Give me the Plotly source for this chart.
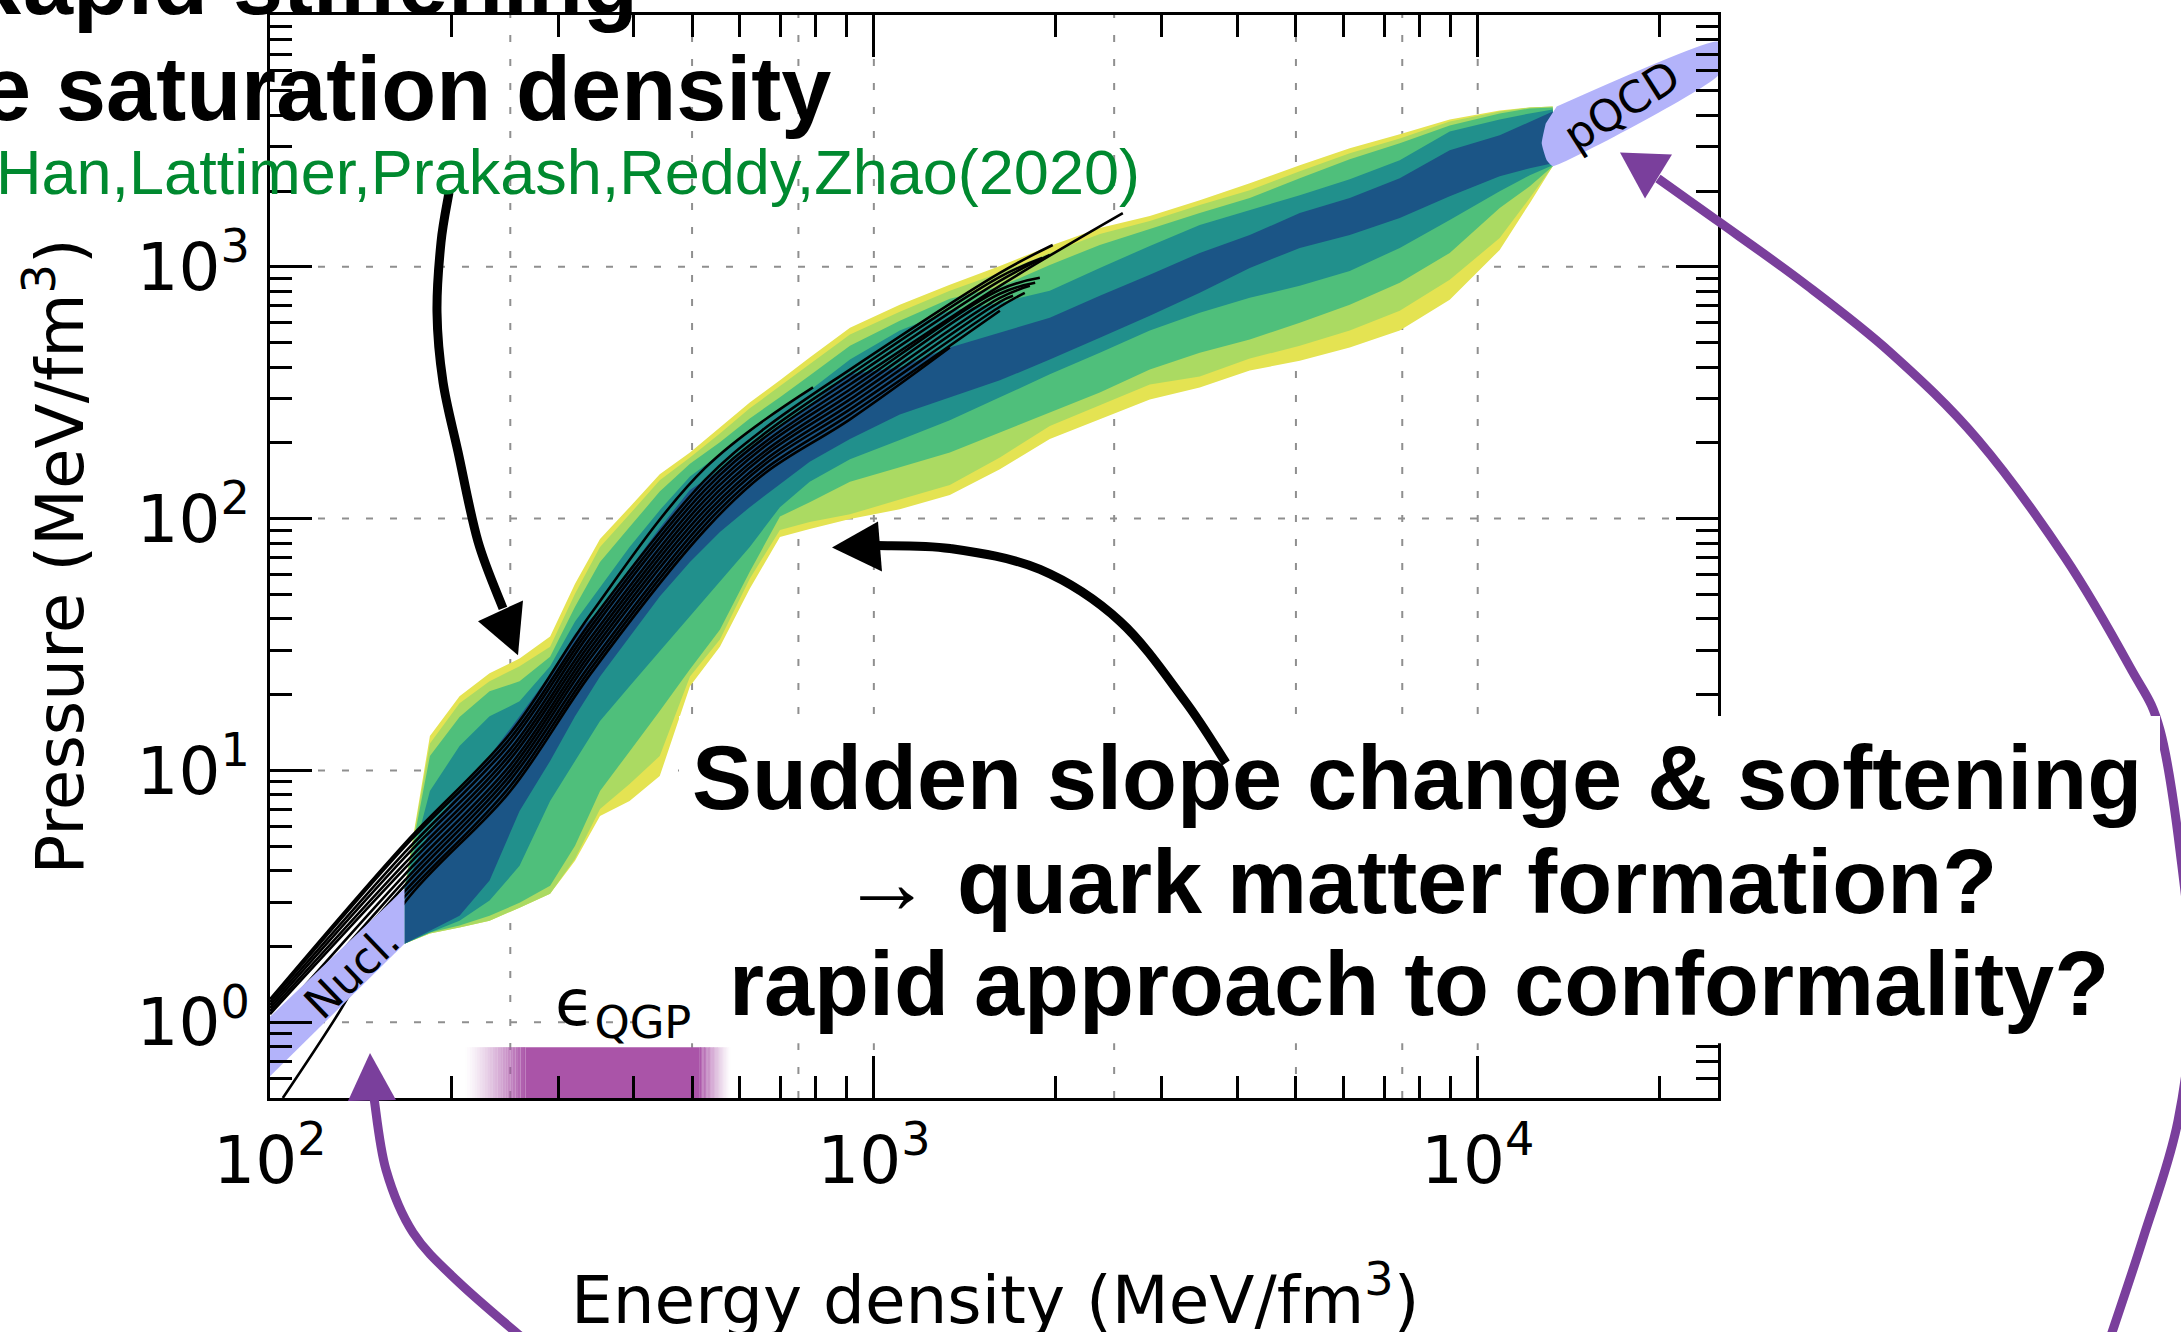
import numpy as np
import plotly.graph_objects as go

# ---------------- data ----------------
# energy density nodes (MeV/fm^3) for the credibility bands
EPS = [167, 184, 206, 231, 259, 291, 320, 352, 394, 442, 496, 556, 623, 699, 783, 913,
       1104, 1336, 1617, 1956, 2367, 2864, 3465, 4193, 5074, 6139, 7429, 8988, 10875, 12196, 13313]

# pressure (MeV/fm^3): upper / lower edge of each nested band (outermost first)
P_YELLOW_UP = [3.39, 13.7, 19.7, 24.3, 27.8, 34.0, 55.1, 83.0, 111, 150, 183, 230, 289, 354, 436, 573,
               707, 848, 1008, 1209, 1425, 1590, 1839, 2148, 2532, 2954, 3357, 3848, 4178, 4294, 4333]
P_YELLOW_LO = [2.05, 2.25, 2.38, 2.53, 2.85, 3.24, 4.38, 6.59, 7.56, 9.49, 21.6, 31.0, 52.7, 84.6, 90.9, 99.6,
               109, 124, 157, 207, 248, 297, 332, 387, 424, 478, 558, 740, 1167, 1790, 2508]
P_LGREEN_UP = [3.39, 12.8, 18.5, 22.6, 25.9, 31.0, 50.3, 77.2, 104, 142, 175, 218, 274, 335, 409, 538,
               663, 803, 946, 1135, 1350, 1519, 1758, 2015, 2395, 2822, 3236, 3779, 4140, 4294, 4333]
P_LGREEN_LO = [2.05, 2.25, 2.38, 2.53, 2.85, 3.24, 4.46, 7.03, 8.83, 11.4, 23.6, 33.1, 57.7, 90.1, 96.9, 104,
               119, 136, 175, 233, 282, 341, 367, 432, 486, 558, 669, 888, 1301, 1874, 2508]
P_GREEN_UP = [3.39, 11.4, 16.3, 20.6, 22.6, 28.3, 44.7, 67.3, 92.6, 128, 165, 201, 250, 303, 370, 486,
              611, 746, 833, 1017, 1221, 1413, 1634, 1874, 2247, 2673, 3093, 3643, 4064, 4255, 4294]
P_GREEN_LO = [2.05, 2.27, 2.42, 2.65, 2.98, 3.48, 5.02, 8.28, 11.9, 17.2, 25.2, 36.2, 61.5, 102, 116, 140,
              160, 183, 220, 264, 317, 391, 456, 514, 600, 707, 864, 1135, 1711, 2090, 2508]
P_TEAL_UP = [3.39, 8.28, 12.5, 16.4, 18.8, 25.9, 39.0, 53.6, 77.2, 108, 147, 180, 220, 269, 323, 428,
             558, 669, 720, 803, 990, 1209, 1465, 1680, 1925, 2228, 2649, 3450, 3848, 4064, 4216]
P_TEAL_LO = [2.05, 2.27, 2.53, 3.04, 4.18, 7.56, 10.9, 15.7, 21.6, 29.7, 40.8, 56.1, 77.2, 111, 140, 172,
             205, 246, 303, 374, 456, 558, 657, 753, 840, 963, 1188, 1533, 1997, 2311, 2532]
P_BLUE_UP = [3.39, 5.75, 8.28, 11.4, 16.4, 24.1, 34.9, 43.5, 63.2, 91.8, 130, 156, 192, 233, 284, 374,
             398, 478, 548, 628, 767, 929, 1135, 1337, 1634, 1874, 2247, 2901, 3327, 3779, 4140]
P_BLUE_LO = [2.05, 2.31, 2.65, 3.65, 6.90, 10.9, 16.4, 23.6, 34.0, 49.0, 67.3, 88.5, 111, 137, 168, 207,
             259, 303, 354, 428, 523, 639, 788, 990, 1188, 1337, 1562, 1908, 2289, 2463, 2578]
BAND_COLORS = ["#e4e352", "#abda62", "#4fbf7b", "#21908c", "#1b5586"]

# individual EOS curves (black lines)
E9 = [100, 167, 250, 340, 525, 660, 913, 1617]
EOS_EPS = [
    [100, 167, 250, 340, 525, 793],
    E9 + [1978],
    E9 + [1900],
    E9 + [1956],
    E9 + [2584],
    E9 + [1883],
    E9 + [1850],
    E9 + [1813],
    E9 + [1700],
    E9 + [1778],
    E9,
    [105, 130, 167, 250, 340, 525, 660, 913, 1336],
]
EOS_P = [
    [1.233, 5.11, 14.05, 41.9, 158.6, 332],
    [1.200, 4.97, 13.42, 38.98, 142.1, 228.3, 390.8, 945.9, 1221],
    [1.168, 4.71, 12.82, 37.24, 135.8, 218.1, 373.5, 912.0, 1084],
    [1.136, 4.50, 12.14, 35.58, 129.8, 210.3, 356.8, 879.7, 1115],
    [1.105, 4.26, 11.60, 33.69, 124.0, 201.0, 340.9, 840.4, 1634],
    [1.076, 4.07, 11.08, 32.19, 118.5, 193.8, 325.7, 810.4, 904],
    [0.973, 3.85, 10.50, 30.75, 113.2, 185.1, 311.2, 781.3, 864],
    [0.888, 3.65, 10.03, 29.38, 108.1, 178.5, 297.4, 753.1, 840],
    [0.834, 3.48, 9.58, 28.08, 103.3, 170.6, 284.1, 726.3, 767],
    [0.789, 3.30, 9.15, 26.58, 98.7, 164.5, 271.5, 693.9, 788],
    [0.740, 3.15, 8.67, 25.40, 94.3, 157.1, 259.4, 669.1],
    [0.50, 1.09, 2.98, 8.28, 24.28, 90.1, 151.5, 247.9, 478],
]

# nuclear-theory band and pQCD band
NUCL_EPS = [100, 167, 167, 100]
NUCL_P = [1.05, 3.39, 2.05, 0.61]
PQCD_EPS = [13515, 25000, 25000, 13313, 13010, 12764, 12962]
PQCD_P = [4333, 7834, 5746, 2508, 2649, 3093, 3711]

# epsilon_QGP range (solid part and fade edges)
QGP_SOLID = [265, 515]
QGP_FADE_LO = 210
QGP_FADE_HI = 580
QGP_P = [0.5, 0.796]

# axes
X_RANGE = [2.0, np.log10(25000)]
Y_RANGE = [np.log10(0.5), 4.0]
X_TICKVALS = [100, 1000, 10000]
X_TICKTEXT = ["10<sup>2</sup>", "10<sup>3</sup>", "10<sup>4</sup>"]
Y_TICKVALS = [1, 10, 100, 1000]
Y_TICKTEXT = ["10<sup>0</sup>", "10<sup>1</sup>", "10<sup>2</sup>", "10<sup>3</sup>"]
X_MINOR = [m * 10 ** k for k in (2, 3) for m in range(2, 10)] + [20000]
Y_MINOR = [0.5, 0.6, 0.7, 0.8, 0.9] + [m * 10 ** k for k in (0, 1, 2, 3) for m in range(2, 10)]
GRID_X = [250, 500, 750, 1000, 2500, 5000, 7500, 10000]
GRID_Y = [1, 10, 100, 1000]

# ---------------- layout geometry ----------------
W, H = 2181, 1332
L, R, T, B = 270, 463, 12, 234
PW, PH = W - L - R, H - T - B


def px(x):
    return (x - L) / PW


def py(y):
    return (H - B - y) / PH


def smooth_path(pts):
    p = [(px(a), py(b)) for a, b in pts]
    d = "M %.5f,%.5f" % p[0]
    for i in range(len(p) - 1):
        p0 = p[i - 1] if i > 0 else p[i]
        p1, p2 = p[i], p[i + 1]
        p3 = p[i + 2] if i + 2 < len(p) else p2
        c1 = (p1[0] + (p2[0] - p0[0]) / 6, p1[1] + (p2[1] - p0[1]) / 6)
        c2 = (p2[0] - (p3[0] - p1[0]) / 6, p2[1] - (p3[1] - p1[1]) / 6)
        d += " C %.5f,%.5f %.5f,%.5f %.5f,%.5f" % (c1 + c2 + p2)
    return d


def tri_path(pts):
    p = [(px(a), py(b)) for a, b in pts]
    return "M %.5f,%.5f L %.5f,%.5f L %.5f,%.5f Z" % (p[0] + p[1] + p[2])


fig = go.Figure()

# dotted grid
for gx in GRID_X:
    fig.add_trace(go.Scatter(x=[gx, gx], y=[0.5, 1e4], mode="lines",
                             line=dict(color="#8f8f8f", width=2, dash="7px,17px"),
                             hoverinfo="skip", showlegend=False))
for gy in GRID_Y:
    fig.add_trace(go.Scatter(x=[100, 25000], y=[gy, gy], mode="lines",
                             line=dict(color="#8f8f8f", width=2, dash="7px,17px"),
                             hoverinfo="skip", showlegend=False))

# nested bands
bands = [(P_YELLOW_UP, P_YELLOW_LO), (P_LGREEN_UP, P_LGREEN_LO), (P_GREEN_UP, P_GREEN_LO),
         (P_TEAL_UP, P_TEAL_LO), (P_BLUE_UP, P_BLUE_LO)]
for (up, lo), col in zip(bands, BAND_COLORS):
    fig.add_trace(go.Scatter(x=EPS + EPS[::-1], y=up + lo[::-1], mode="lines", fill="toself",
                             fillcolor=col, line=dict(width=0, color=col),
                             hoverinfo="skip", showlegend=False))

# black EOS curves
for ex, ey in zip(EOS_EPS, EOS_P):
    fig.add_trace(go.Scatter(x=ex, y=ey, mode="lines",
                             line=dict(color="black", width=2.6, shape="spline", smoothing=1.0),
                             hoverinfo="skip", showlegend=False))

# Nucl. and pQCD bands
fig.add_trace(go.Scatter(x=NUCL_EPS, y=NUCL_P, mode="lines", fill="toself", fillcolor="#b3b3fa",
                         line=dict(width=0, color="#b3b3fa"), hoverinfo="skip", showlegend=False))
fig.add_trace(go.Scatter(x=PQCD_EPS, y=PQCD_P, mode="lines", fill="toself", fillcolor="#b3b3fa",
                         line=dict(width=0, color="#b3b3fa", shape="spline", smoothing=0.4),
                         hoverinfo="skip", showlegend=False))

# epsilon_QGP bar with faded edges
QGP_RGB = "170,84,168"
fig.add_trace(go.Scatter(x=[QGP_SOLID[0], QGP_SOLID[1], QGP_SOLID[1], QGP_SOLID[0]],
                         y=[QGP_P[0], QGP_P[0], QGP_P[1], QGP_P[1]], mode="lines", fill="toself",
                         fillcolor="rgb(%s)" % QGP_RGB, line=dict(width=0), hoverinfo="skip",
                         showlegend=False))
NF = 24
for a, b in ((QGP_FADE_LO, QGP_SOLID[0]), (QGP_SOLID[1], QGP_FADE_HI)):
    edges = np.logspace(np.log10(a), np.log10(b), NF + 1)
    for i in range(NF):
        t = (i + 0.5) / NF
        alpha = t if a == QGP_FADE_LO else 1 - t
        alpha = alpha ** 1.3
        fig.add_trace(go.Scatter(x=[edges[i], edges[i + 1], edges[i + 1], edges[i]],
                                 y=[QGP_P[0], QGP_P[0], QGP_P[1], QGP_P[1]], mode="lines",
                                 fill="toself", fillcolor="rgba(%s,%.3f)" % (QGP_RGB, alpha),
                                 line=dict(width=0), hoverinfo="skip", showlegend=False))

# ---------------- decorations (arrows, text box) ----------------
PURPLE = "#7a3f9c"
shapes = []
# large purple arc towards pQCD
arc = [(2108, 1345), (2143, 1239), (2178, 1121), (2192, 990), (2180, 850), (2160, 729), (2130, 666),
       (2065, 556), (1978, 438), (1891, 351), (1804, 281), (1717, 218), (1658, 176)]
shapes.append(dict(type="path", xref="paper", yref="paper", path=smooth_path(arc),
                   line=dict(color=PURPLE, width=9), layer="above"))
shapes.append(dict(type="path", xref="paper", yref="paper",
                   path=tri_path([(1620, 150), (1672, 152), (1645, 196)]),
                   fillcolor=PURPLE, line=dict(width=0), layer="above"))
# white box behind the big text
shapes.append(dict(type="rect", xref="paper", yref="paper", x0=px(679), x1=px(2160), y0=py(1043), y1=py(715),
                   fillcolor="white", line=dict(width=0), layer="above"))
# black arrow from the reference label
shapes.append(dict(type="path", xref="paper", yref="paper",
                   path=smooth_path([(449, 190), (441, 240), (437, 310), (443, 380), (458, 450),
                                     (478, 540), (503, 607)]),
                   line=dict(color="black", width=9), layer="above"))
shapes.append(dict(type="path", xref="paper", yref="paper",
                   path=tri_path([(518, 654), (478, 620), (523, 599)]),
                   fillcolor="black", line=dict(width=0), layer="above"))
# black arrow from the big text
shapes.append(dict(type="path", xref="paper", yref="paper",
                   path=smooth_path([(1226, 762), (1185, 700), (1120, 620), (1040, 568), (950, 547),
                                     (876, 544)]),
                   line=dict(color="black", width=9), layer="above"))
shapes.append(dict(type="path", xref="paper", yref="paper",
                   path=tri_path([(832, 546), (878, 520), (882, 570)]),
                   fillcolor="black", line=dict(width=0), layer="above"))
# purple arrow towards Nucl.
shapes.append(dict(type="path", xref="paper", yref="paper",
                   path=smooth_path([(530, 1345), (459, 1283), (413, 1233), (386, 1170), (374, 1098)]),
                   line=dict(color=PURPLE, width=9), layer="above"))
shapes.append(dict(type="path", xref="paper", yref="paper",
                   path=tri_path([(370, 1053), (348, 1101), (396, 1100)]),
                   fillcolor=PURPLE, line=dict(width=0), layer="above"))

BOLD = "Liberation Sans, Arial, sans-serif"
DJ = "DejaVu Sans, sans-serif"
ann = []


def add_text(text, x, y, size, family=BOLD, color="black", xanchor="center", angle=0):
    ann.append(dict(text=text, x=px(x), y=py(y), xref="paper", yref="paper", showarrow=False,
                    xanchor=xanchor, yanchor="middle", textangle=angle,
                    font=dict(family=family, size=size, color=color)))


add_text("<b>Rapid stiffening</b>", 640, -20, 90, xanchor="right")
add_text("<b>e saturation density</b>", 833, 86, 90, xanchor="right")
add_text("Han,Lattimer,Prakash,Reddy,Zhao(2020)", 1142, 169, 63, family="Liberation Sans, Arial",
         color="#00892f", xanchor="right")
add_text("<b>Sudden slope change &amp; softening</b>", 1417, 777, 90)
add_text("<b>\u2192 quark matter formation?</b>", 1419, 881, 90)
add_text("<b>rapid approach to conformality?</b>", 1419, 984, 90)
add_text("\u03f5<sub>QGP</sub>", 553, 1007, 64, family=DJ, xanchor="left")
add_text("Energy density (MeV/fm<sup>3</sup>)", 995, 1296, 66, family=DJ)
add_text("Pressure (MeV/fm<sup>3</sup>)", 56, 555, 66, family=DJ, angle=-90)

# band labels in data coordinates (log10 for annotations on log axes)
ann.append(dict(text="Nucl.", x=np.log10(136.7), y=np.log10(1.59), xref="x", yref="y", showarrow=False,
                textangle=-44, font=dict(family=DJ, size=44, color="black")))
ann.append(dict(text="pQCD", x=np.log10(17313), y=np.log10(4372), xref="x", yref="y", showarrow=False,
                textangle=-32.5, font=dict(family=DJ, size=44, color="black")))

axis_common = dict(type="log", showgrid=False, zeroline=False, showline=True, linecolor="black",
                   linewidth=3, mirror="allticks", ticks="inside", ticklen=42, tickwidth=2.5,
                   tickcolor="black", tickmode="array",
                   tickfont=dict(family=DJ, size=66, color="black"))

fig.update_layout(
    width=W, height=H, margin=dict(l=L, r=R, t=T, b=B, pad=0),
    paper_bgcolor="white", plot_bgcolor="white", showlegend=False,
    font=dict(family=DJ, color="black"),
    xaxis=dict(range=X_RANGE, tickvals=X_TICKVALS, ticktext=X_TICKTEXT, ticklabelstandoff=3,
               minor=dict(tickmode="array", tickvals=X_MINOR, ticks="inside", ticklen=22, tickwidth=2.5,
                          tickcolor="black", showgrid=False),
               **axis_common),
    yaxis=dict(range=Y_RANGE, tickvals=Y_TICKVALS, ticktext=Y_TICKTEXT, ticklabelstandoff=4,
               minor=dict(tickmode="array", tickvals=Y_MINOR, ticks="inside", ticklen=22, tickwidth=2.5,
                          tickcolor="black", showgrid=False),
               **axis_common),
    shapes=shapes, annotations=ann,
)

fig.write_html("out.html")
